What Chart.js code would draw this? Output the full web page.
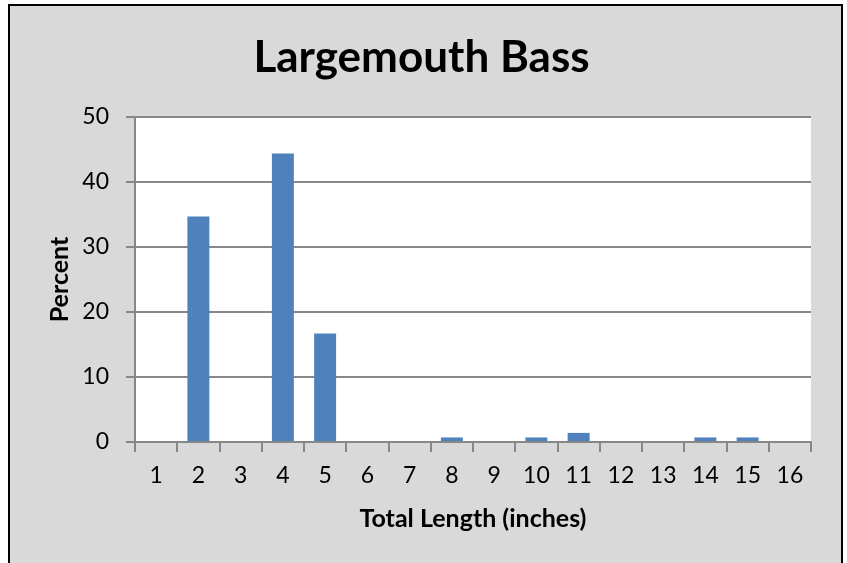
<!DOCTYPE html>
<html>
<head>
<meta charset="utf-8">
<script src="https://cdn.jsdelivr.net/npm/chart.js@4/dist/chart.umd.min.js"></script>
<style>
  html, body { margin: 0; padding: 0; background: #ffffff; }
  #wrap { width: 847px; height: 563px; }
</style>
</head>
<body>
<div id="wrap"><canvas id="c" width="847" height="563"></canvas></div>
<script>
const chartTitle = 'Largemouth Bass';
const xAxisTitle = 'Total Length (inches)';
const yAxisTitle = 'Percent';
const categories = ['1','2','3','4','5','6','7','8','9','10','11','12','13','14','15','16'];
const percentValues = [0, 34.7, 0, 44.4, 16.7, 0, 0, 0.7, 0, 0.7, 1.4, 0, 0, 0.7, 0.7, 0];
const yTickValues = [0, 10, 20, 30, 40, 50];

const GRID = '#878787';
const FONT = 'Lato, "Open Sans", sans-serif';

const framePlugin = {
  id: 'frame',
  beforeDraw(chart) {
    const ctx = chart.ctx;
    const a = chart.chartArea;
    ctx.save();
    ctx.fillStyle = '#ffffff';
    ctx.fillRect(0, 0, chart.width, chart.height);
    ctx.fillStyle = '#000000';
    ctx.fillRect(8, 4, 835, chart.height);
    ctx.fillStyle = '#d9d9d9';
    ctx.fillRect(10, 6, 831, chart.height);
    ctx.fillStyle = '#ffffff';
    ctx.fillRect(a.left, a.top, a.right - a.left, a.bottom - a.top);
    ctx.restore();
  }
};

new Chart(document.getElementById('c'), {
  type: 'bar',
  data: {
    labels: categories,
    datasets: [{
      data: percentValues,
      backgroundColor: '#4f81bd',
      borderWidth: 0,
      barPercentage: 0.52,
      categoryPercentage: 1.0
    }]
  },
  options: {
    responsive: false,
    animation: false,
    devicePixelRatio: 1,
    layout: { padding: { left: 10, right: 14, top: 6, bottom: 0 } },
    plugins: {
      legend: { display: false },
      tooltip: { enabled: false },
      title: {
        display: true,
        text: chartTitle,
        color: '#000000',
        font: { family: FONT, size: 44, weight: 'bold', lineHeight: 1.2 },
        padding: { top: 25.8, bottom: 32.4 }
      }
    },
    scales: {
      x: {
        grid: { offset: true, drawOnChartArea: false, drawTicks: true, tickLength: 10, color: GRID, lineWidth: 2 },
        border: { display: true, color: GRID, width: 2 },
        ticks: { color: '#000000', font: { family: FONT, size: 23 }, padding: 10, maxRotation: 0, autoSkip: false },
        title: { display: true, text: xAxisTitle, color: '#000000', font: { family: FONT, size: 25, weight: 'bold', lineHeight: 1.2 }, padding: { top: 0, bottom: 29 } },
        afterFit(scale) { scale.height = 121; }
      },
      y: {
        min: yTickValues[0],
        max: yTickValues[yTickValues.length - 1],
        afterBuildTicks(scale) { scale.ticks = yTickValues.map(v => ({ value: v })); },
        grid: { color: GRID, lineWidth: 2, tickLength: 9, drawTicks: true },
        border: { display: true, color: GRID, width: 2 },
        ticks: { color: '#000000', font: { family: FONT, size: 23 }, padding: 17 },
        title: { display: true, text: yAxisTitle, color: '#000000', font: { family: FONT, size: 25, weight: 'bold', lineHeight: 1.2 }, padding: { top: 34.5, bottom: 0 } },
        afterFit(scale) { scale.width = 125; }
      },
      yRight: {
        type: 'linear',
        position: 'right',
        display: true,
        grid: { display: false, drawTicks: false },
        border: { display: false },
        ticks: { display: false },
        afterFit(scale) { scale.width = 22; }
      }
    }
  },
  plugins: [framePlugin]
});
</script>
</body>
</html>
